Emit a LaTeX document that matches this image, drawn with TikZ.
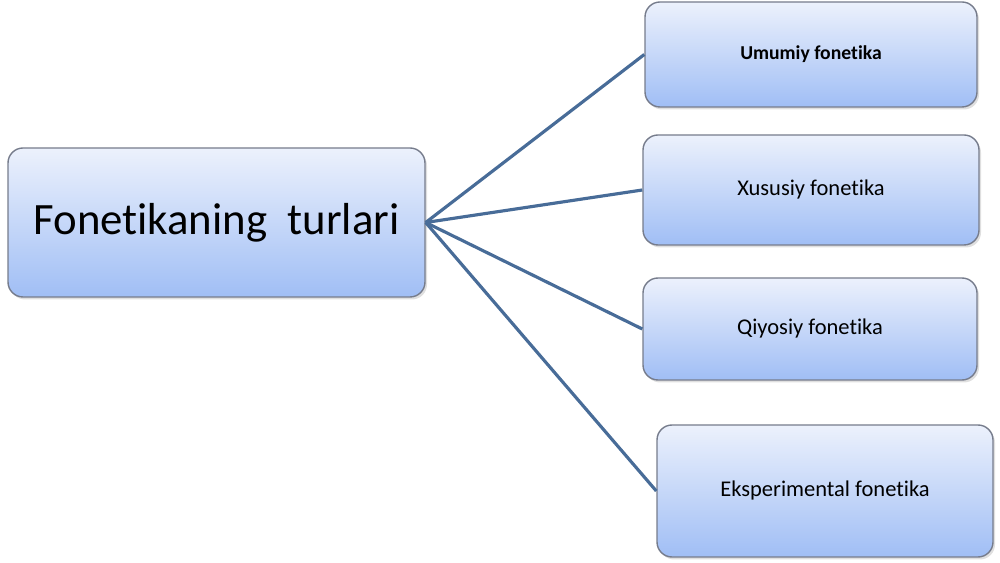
\documentclass[tikz,border=0pt]{standalone}
\usepackage{fontspec}
\setmainfont[RawFeature=-liga]{Carlito}
\usetikzlibrary{shadows}
\definecolor{boxtop}{RGB}{236,241,252}
\definecolor{boxbot}{RGB}{160,190,245}
\definecolor{boxline}{RGB}{118,124,140}
\definecolor{link}{RGB}{72,108,152}
\begin{document}
\begin{tikzpicture}[
        box/.style={draw=boxline,line width=0.8pt,rounded corners=0.3cm,
            top color=boxtop,bottom color=boxbot,inner sep=0pt,
            drop shadow={opacity=0.25,shadow xshift=0.04cm,shadow yshift=-0.05cm},
            font=\fontsize{12.8}{15}\selectfont},
        link/.style={draw=link,line width=1.8pt}]
\useasboundingbox (0,0) rectangle (20,11.26);

\node[box,minimum width=8.34cm,minimum height=2.98cm,
      font=\fontsize{25.5}{30}\selectfont] (root) at (4.33,6.81) {Fonetikaning\ \ turlari};

\node[box,minimum width=6.64cm,minimum height=2.1cm,
      font=\fontsize{11.2}{13}\selectfont\bfseries] (umumiy) at (16.22,10.17) {Umumiy fonetika};
\node[box,minimum width=6.72cm,minimum height=2.2cm] (xususiy) at (16.22,7.46) {Xususiy fonetika};
\node[box,minimum width=6.68cm,minimum height=2.04cm] (qiyosiy) at (16.2,4.68) {Qiyosiy fonetika};
\node[box,minimum width=6.72cm,minimum height=2.64cm] (eksper) at (16.5,1.44) {Eksperimental fonetika};

\draw[link] (root.east) -- (umumiy.west);
\draw[link] (root.east) -- (xususiy.west);
\draw[link] (root.east) -- (qiyosiy.west);
\draw[link] (root.east) -- (eksper.west);

\end{tikzpicture}
\end{document}
